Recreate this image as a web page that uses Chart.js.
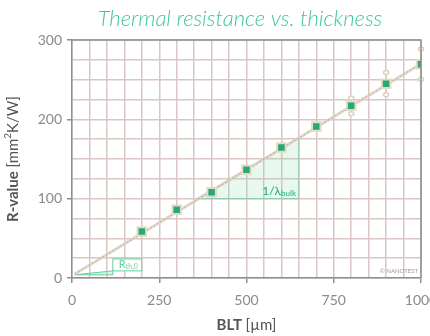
<!DOCTYPE html>
<html>
<head>
<meta charset="utf-8">
<script src="https://cdn.jsdelivr.net/npm/chart.js@4/dist/chart.umd.min.js"></script>
<style>
    html, body { margin: 0; padding: 0; background: #fff; overflow: hidden; }
    #wrap { width: 430px; height: 336px; position: relative; }
</style>
</head>
<body>
<div id="wrap"><canvas id="chart"></canvas></div>
<script>
// measured points (BLT in um, R-value in mm2K/W)
const thickness = [200, 300, 400, 500, 600, 700, 800, 900, 1000];
const rValue = [58.5, 86, 108, 136.5, 164.5, 191, 217, 245, 269.5];
const rError = [3, 3, 3, 3, 4, 5, 10, 14, 19];

// linear fit through the points
const fitX = [8, 1000];
const fitY = [5, 270];

// slope triangle and intercept wedge
const slopeTriX = [358, 650, 650];
const slopeTriY = [100, 100, 177];
const wedgeX = [8, 117, 117];
const wedgeY = [4, 4, 9];
const rthBoxX = [117, 200];
const rthBoxY = [9, 24];

const xTicks = [0, 250, 500, 750, 1000];
const yTicks = [0, 100, 200, 300];

const green = '#25a97c';
const lightGreen = '#63cf9f';
const tickGrey = '#8a8a8a';
const gridCol = '#dcc6c3';
const frameCol = '#8e8e8e';

const decor = {
    id: 'decor',
    beforeDatasetsDraw(chart){
        const ctx = chart.ctx;
        const xs = chart.scales.x, ys = chart.scales.y;
        const px = v => xs.getPixelForValue(v);
        const py = v => ys.getPixelForValue(v);
        ctx.save();
        // slope triangle
        ctx.beginPath();
        slopeTriX.forEach((x, i) => {
            if(i === 0) ctx.moveTo(px(x), py(slopeTriY[i]));
            else ctx.lineTo(px(x), py(slopeTriY[i]));
        });
        ctx.closePath();
        ctx.fillStyle = 'rgba(120, 215, 170, 0.18)';
        ctx.fill();
        ctx.strokeStyle = 'rgba(100, 205, 160, 0.55)';
        ctx.lineWidth = 1.2;
        ctx.stroke();
        // intercept wedge
        ctx.beginPath();
        wedgeX.forEach((x, i) => {
            if(i === 0) ctx.moveTo(px(x), py(wedgeY[i]));
            else ctx.lineTo(px(x), py(wedgeY[i]));
        });
        ctx.closePath();
        ctx.fillStyle = 'rgba(120, 215, 170, 0.25)';
        ctx.fill();
        ctx.strokeStyle = lightGreen;
        ctx.lineWidth = 1;
        ctx.stroke();
        // error bars
        ctx.strokeStyle = '#d9d0c4';
        ctx.lineWidth = 2;
        thickness.forEach((t, i) => {
            const x = px(t);
            const y1 = py(rValue[i] - rError[i]);
            const y2 = py(rValue[i] + rError[i]);
            ctx.beginPath();
            ctx.moveTo(x, y1);
            ctx.lineTo(x, y2);
            ctx.stroke();
            if(rError[i] > 5){
                [y1, y2].forEach(y => {
                    ctx.beginPath();
                    ctx.ellipse(x, y, 2.5, 2, 0, 0, Math.PI * 2);
                    ctx.fillStyle = '#fff';
                    ctx.fill();
                    ctx.lineWidth = 1.5;
                    ctx.stroke();
                });
                ctx.lineWidth = 2;
            }
        });
        ctx.restore();
    },
    afterDatasetsDraw(chart){
        const ctx = chart.ctx;
        const area = chart.chartArea;
        const xs = chart.scales.x, ys = chart.scales.y;
        const px = v => xs.getPixelForValue(v);
        const py = v => ys.getPixelForValue(v);
        ctx.save();
        // frame on top and right
        ctx.strokeStyle = frameCol;
        ctx.lineWidth = 1.5;
        ctx.beginPath();
        ctx.moveTo(area.left, area.top);
        ctx.lineTo(area.right, area.top);
        ctx.lineTo(area.right, area.bottom);
        ctx.stroke();

        // 1/lambda_bulk label
        ctx.fillStyle = green;
        ctx.textBaseline = 'alphabetic';
        ctx.textAlign = 'left';
        let lx = px(545), ly = py(105);
        ctx.font = '12px Lato';
        ctx.fillText('1/λ', lx, ly);
        lx += ctx.measureText('1/λ').width;
        ctx.font = '8px Lato';
        ctx.fillText('bulk', lx, ly + 1);

        // R_th,0 box
        const bx1 = px(rthBoxX[0]), bx2 = px(rthBoxX[1]);
        const by1 = py(rthBoxY[1]), by2 = py(rthBoxY[0]);
        ctx.fillStyle = '#fff';
        ctx.fillRect(bx1, by1, bx2 - bx1, by2 - by1);
        ctx.strokeStyle = lightGreen;
        ctx.lineWidth = 1;
        ctx.strokeRect(bx1, by1, bx2 - bx1, by2 - by1);
        ctx.fillStyle = lightGreen;
        ctx.font = '11px Lato';
        let rx = bx1 + 6, ry = by2 - 3;
        ctx.fillText('R', rx, ry);
        rx += ctx.measureText('R').width;
        ctx.font = '7px Lato';
        ctx.fillText('th,0', rx, ry + 1);

        // copyright
        ctx.fillStyle = '#9a9a9a';
        ctx.font = '6px Lato';
        ctx.textAlign = 'right';
        ctx.fillText('© NANOTEST', area.right - 3, area.bottom - 5);
        ctx.restore();
    },
    afterDraw(chart){
        const ctx = chart.ctx;
        const area = chart.chartArea;
        ctx.save();
        // title
        ctx.fillStyle = '#3fc79b';
        ctx.font = 'italic 300 22px Lato';
        ctx.textAlign = 'center';
        ctx.textBaseline = 'middle';
        ctx.fillText('Thermal resistance vs. thickness', 240, 19);

        // x axis title with bold part
        ctx.fillStyle = '#555';
        ctx.textAlign = 'left';
        const bold = 'bold 15px Lato', norm = '15px Lato';
        ctx.font = bold;
        const wb = ctx.measureText('BLT ').width;
        ctx.font = norm;
        const wn = ctx.measureText('[µm]').width;
        let x0 = (area.left + area.right) / 2 - (wb + wn) / 2;
        ctx.font = bold;
        ctx.fillText('BLT ', x0, 325);
        ctx.font = norm;
        ctx.fillText('[µm]', x0 + wb, 325);

        // y axis title
        ctx.translate(13, (area.top + area.bottom) / 2);
        ctx.rotate(-Math.PI / 2);
        ctx.font = bold;
        const yb = ctx.measureText('R-value ').width;
        ctx.font = norm;
        const yn1 = ctx.measureText('[mm').width;
        ctx.font = '10px Lato';
        const ysup = ctx.measureText('2').width;
        ctx.font = norm;
        const yn2 = ctx.measureText('K/W]').width;
        let y0 = -(yb + yn1 + ysup + yn2) / 2;
        ctx.font = bold;
        ctx.fillText('R-value ', y0, 0);
        y0 += yb;
        ctx.font = norm;
        ctx.fillText('[mm', y0, 0);
        y0 += yn1;
        ctx.font = '10px Lato';
        ctx.fillText('2', y0, -5);
        y0 += ysup;
        ctx.font = norm;
        ctx.fillText('K/W]', y0, 0);
        ctx.restore();
    }
};

new Chart(document.getElementById('chart'), {
    type: 'scatter',
    data: {
        datasets: [
            {
                data: thickness.map((t, i) => ({x: t, y: rValue[i]})),
                order: 0,
                pointStyle: 'rect',
                pointRadius: 6,
                pointBackgroundColor: green,
                pointBorderColor: '#e4dac2',
                pointBorderWidth: 2
            },
            {
                type: 'line',
                data: fitX.map((x, i) => ({x: x, y: fitY[i]})),
                order: 1,
                borderColor: 'rgba(150, 140, 130, 0.55)',
                borderWidth: 1,
                borderDash: [2, 2],
                pointRadius: 0,
                fill: false
            },
            {
                type: 'line',
                data: fitX.map((x, i) => ({x: x, y: fitY[i]})),
                order: 2,
                borderColor: 'rgba(225, 210, 196, 0.85)',
                borderWidth: 3,
                pointRadius: 0,
                fill: false
            }
        ]
    },
    options: {
        responsive: true,
        maintainAspectRatio: false,
        animation: false,
        layout: {padding: {top: 40, left: 0, right: 9, bottom: 0}},
        plugins: {legend: {display: false}, tooltip: {enabled: false}, title: {display: false}},
        scales: {
            x: {
                type: 'linear',
                min: 0, max: 1000,
                ticks: {
                    stepSize: 50,
                    color: tickGrey,
                    font: {family: 'Lato', size: 14},
                    padding: 9,
                    maxRotation: 0,
                    autoSkip: false,
                    callback: v => xTicks.includes(v) ? v : ''
                },
                grid: {
                    color: gridCol,
                    lineWidth: 1.5,
                    tickLength: 5,
                    tickColor: c => xTicks.includes(c.tick.value) ? frameCol : 'rgba(0,0,0,0)'
                },
                border: {color: frameCol, width: 1.5},
                afterFit(s){ s.height = 58; s.paddingLeft = 0; s.paddingRight = 0; }
            },
            y: {
                min: 0, max: 300,
                ticks: {
                    stepSize: 25,
                    color: tickGrey,
                    font: {family: 'Lato', size: 14},
                    padding: 5,
                    autoSkip: false,
                    callback: v => yTicks.includes(v) ? v : ''
                },
                grid: {
                    color: gridCol,
                    lineWidth: 1.5,
                    tickLength: 5,
                    tickColor: c => yTicks.includes(c.tick.value) ? frameCol : 'rgba(0,0,0,0)'
                },
                border: {color: frameCol, width: 1.5},
                afterFit(s){ s.width = 72; s.paddingTop = 0; s.paddingBottom = 0; }
            }
        }
    },
    plugins: [decor]
});
</script>
</body>
</html>
